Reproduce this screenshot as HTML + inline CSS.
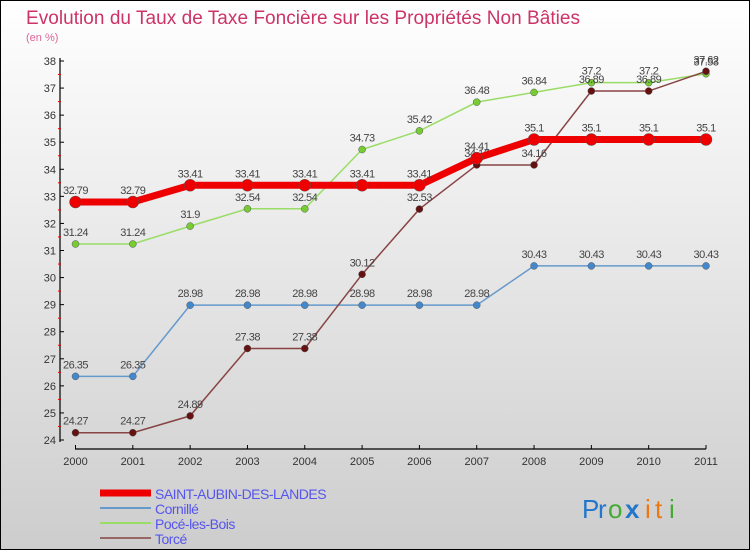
<!DOCTYPE html>
<html><head><meta charset="utf-8"><style>
html,body{margin:0;padding:0}
body{width:750px;height:550px;overflow:hidden;font-family:"Liberation Sans",sans-serif}
</style></head><body>
<svg id="chart" width="750" height="550" xmlns="http://www.w3.org/2000/svg">
<defs><linearGradient id="bg" x1="0" y1="0" x2="0" y2="1"><stop offset="0" stop-color="#ffffff"/><stop offset="1" stop-color="#cdcdcd"/></linearGradient></defs>
<rect x="0.5" y="0.5" width="749" height="549" fill="url(#bg)" stroke="#000"/>
<text x="26" y="24" font-size="19" fill="#cc3366" textLength="554">Evolution du Taux de Taxe Foncière sur les Propriétés Non Bâties</text>
<text x="26" y="41" font-size="11" fill="#dd6699">(en %)</text>
<g id="axes"></g>
<g id="series"></g>
<g id="legend"></g>
<g font-size="26" font-family="'Liberation Sans',sans-serif">
<text x="582" y="518" fill="#2277cc">P</text><text x="598" y="518" fill="#2277cc">r</text><text x="608" y="518" fill="#44aa33">o</text><text x="625" y="518" fill="#2277cc" font-weight="bold">x</text><text x="645" y="518" fill="#ee7711">i</text><text x="655" y="518" fill="#ee7711">t</text><text x="669" y="518" fill="#44aa33">i</text>
</g>
</svg>
<script>
const years=[2000,2001,2002,2003,2004,2005,2006,2007,2008,2009,2010,2011];
const yTicks=[24,25,26,27,28,29,30,31,32,33,34,35,36,37,38];
const seriesNames=["SAINT-AUBIN-DES-LANDES","Cornillé","Pocé-les-Bois","Torcé"];
const saint=[32.79,32.79,33.41,33.41,33.41,33.41,33.41,34.41,35.1,35.1,35.1,35.1];
const cornille=[26.35,26.35,28.98,28.98,28.98,28.98,28.98,28.98,30.43,30.43,30.43,30.43];
const poce=[31.24,31.24,31.9,32.54,32.54,34.73,35.42,36.48,36.84,37.2,37.2,37.53];
const torce=[24.27,24.27,24.89,27.38,27.38,30.12,32.53,34.16,34.16,36.89,36.89,37.62];
const NS="http://www.w3.org/2000/svg";
const x=i=>75.5+i*(706-75.5)/11;
const y=v=>440-(v-24)*(440-61)/14;
function mk(tag,attrs,parent){const e=document.createElementNS(NS,tag);for(const k in attrs)e.setAttribute(k,attrs[k]);parent.appendChild(e);return e;}
const axes=document.getElementById('axes');
const ya=mk('line',{x1:60,y1:58,x2:60,y2:442,stroke:'#000','stroke-width':1.2},axes);


const xa=mk('line',{x1:75,y1:449,x2:706,y2:449,stroke:'#000','stroke-width':1.2},axes);


yTicks.forEach(v=>{
 mk('line',{x1:60,y1:y(v),x2:64,y2:y(v),stroke:'#000'},axes);
 if(v<38) mk('line',{x1:58,y1:y(v+0.5),x2:61,y2:y(v+0.5),stroke:'#e00'},axes);
 const t=mk('text',{x:56,y:y(v)+4,'font-size':11,fill:'#333','text-anchor':'end'},axes);
 
 
 t.textContent=v;
});
years.forEach((yr,i)=>{
 mk('line',{x1:x(i),y1:445,x2:x(i),y2:449,stroke:'#000'},axes);
 const t=mk('text',{x:x(i),y:465,'font-size':11,fill:'#333','text-anchor':'middle'},axes);
 
 
 t.textContent=yr;
});
const g=document.getElementById('series');
const styles=[
 {data:saint,color:'#ee0000',w:7,r:6,dot:'#ee0000',name:'saint-aubin'},
 {data:cornille,color:'#6699cc',w:1.5,r:3.5,dot:'#4488cc',name:'cornille'},
 {data:poce,color:'#99dd66',w:1.5,r:3.5,dot:'#77cc33',name:'poce-les-bois'},
 {data:torce,color:'#884444',w:1.5,r:3.5,dot:'#661111',name:'torce'}];
[1,2,3,0].forEach(si=>{
 const s=styles[si];
 const p=mk('polyline',{points:s.data.map((v,i)=>x(i)+','+y(v)).join(' '),fill:'none',stroke:s.color,'stroke-width':s.w},g);
 
 
 s.data.forEach((v,i)=>{
  const c=mk('circle',{cx:x(i),cy:y(v),r:s.r,fill:s.dot,stroke:'#555','stroke-width':0.5},g);
  
  
  const t=mk('text',{x:x(i),y:y(v)-8,'font-size':11,fill:'#444','text-anchor':'middle','letter-spacing':'-0.5'},g);
  
  
  t.textContent=v;
 });
});
const lg=document.getElementById('legend');
const lc=['#ee0000','#6699cc','#99dd66','#996666'];const lw=[7,2,2,2];
seriesNames.forEach((n,i)=>{
 const yy=493+i*15;
 const l=mk('line',{x1:100,y1:yy,x2:151,y2:yy,stroke:lc[i],'stroke-width':lw[i]},lg);
 
 
 const t=mk('text',{x:155,y:yy+6,'font-size':14,fill:'#5555ee','letter-spacing':'-0.5'},lg);
 
 
 t.textContent=n;
});
</script>
</body></html>
